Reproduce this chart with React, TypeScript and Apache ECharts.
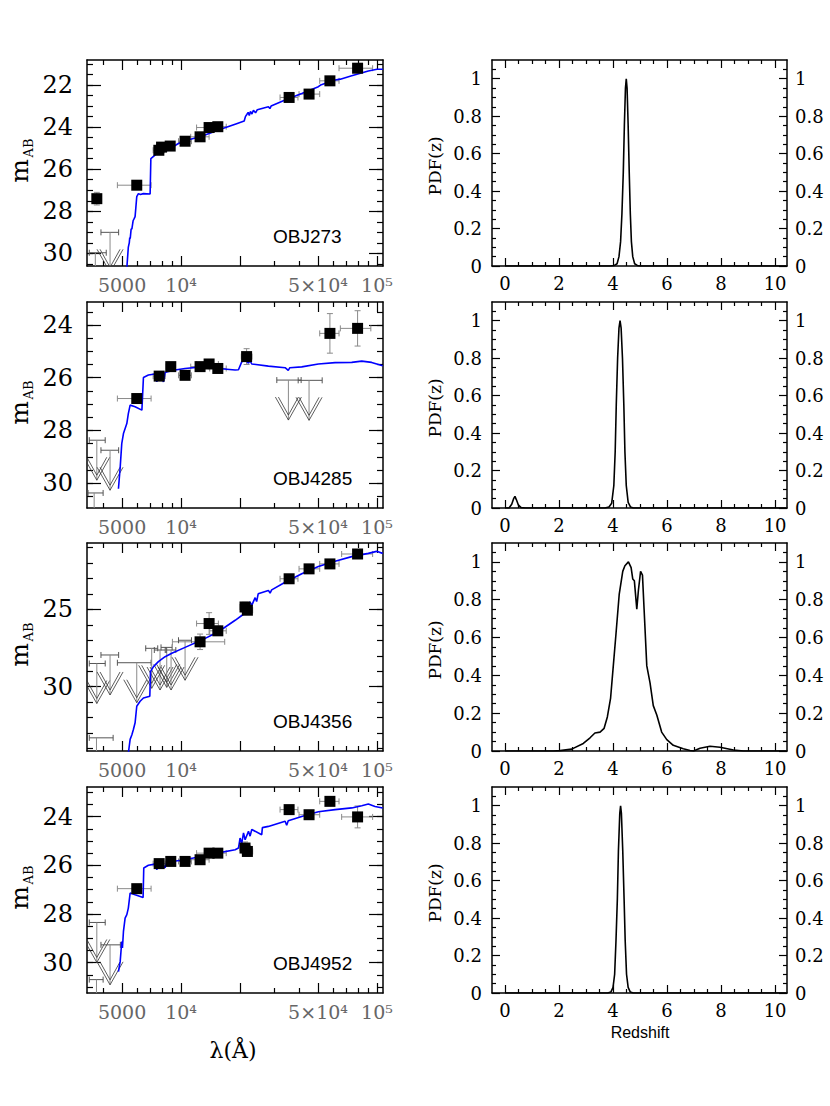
import React, { useEffect, useRef } from 'react';
import * as echarts from 'echarts';

// ---------------- data ----------------
const objectNames = ['OBJ273', 'OBJ4285', 'OBJ4356', 'OBJ4952'];

// best-fit SED templates: [wavelength (Å), m_AB]
const sed273 = [
  [5285, 30.7], [5380, 29.7], [5440, 29.5], [5470, 29.25], [5500, 29.3], [5560, 28.85], [5610, 28.83],
  [5690, 28.45], [5760, 28.35], [5825, 28.25], [5880, 27.8], [5940, 27.3], [6055, 27.16], [6200, 27.2],
  [6425, 27.16], [6950, 27.18], [6990, 27.2], [7010, 25.5], [7360, 25.33], [7600, 25.2], [7680, 25.3],
  [7800, 25.1], [7980, 25.01], [8300, 25.05], [8450, 25.12], [8610, 25.02], [8970, 24.97], [9690, 24.78],
  [10480, 24.65], [12750, 24.43], [15500, 24.14], [18880, 23.86], [21000, 23.71], [21300, 23.5],
  [21650, 23.4], [22000, 23.3], [22300, 23.45], [22600, 23.25], [23000, 23.38], [23400, 23.2],
  [24000, 23.32], [24500, 23.17], [27900, 23.03], [28400, 23.12], [28800, 23.0], [33960, 22.71],
  [41300, 22.4], [50200, 22.08], [51500, 22.0], [61100, 21.76], [65000, 21.72], [74300, 21.56],
  [90300, 21.33], [100000, 21.25], [107000, 21.25],
];
const sed4285 = [
  [4790, 30.21], [4890, 29.39], [4980, 28.5], [5080, 28.12], [5285, 27.74], [5380, 27.36], [5495, 27.04],
  [5825, 27.1], [6310, 27.23], [6425, 25.99], [6810, 25.9], [7360, 25.86], [7520, 26.16], [7660, 25.86],
  [7810, 25.83], [8130, 26.16], [8290, 25.8], [8450, 25.78], [9310, 25.71], [10480, 25.65], [12750, 25.59],
  [15500, 25.65], [18880, 25.71], [19630, 25.7], [20400, 25.4], [21230, 25.33], [22080, 25.45],
  [22500, 25.35], [22950, 25.48], [27900, 25.56], [33960, 25.62], [35240, 25.72], [35900, 25.62],
  [41300, 25.59], [50200, 25.48], [61100, 25.43], [74300, 25.42], [83600, 25.37], [93900, 25.42],
  [106900, 25.55],
];
const sed4356 = [
  [5380, 34.3], [5495, 33.4], [5610, 33.1], [5710, 32.76], [5825, 32.33], [5940, 31.26], [6180, 30.94],
  [6425, 30.73], [6925, 30.62], [6980, 29.02], [7230, 28.7], [7660, 28.38], [8290, 28.06], [8970, 27.84],
  [10480, 27.46], [12750, 26.99], [15500, 26.45], [18880, 25.71], [21230, 25.24], [21650, 24.85],
  [22500, 24.53], [22950, 24.75], [23880, 24.25], [24300, 24.5], [24750, 24.0], [27900, 23.78],
  [28460, 23.95], [29000, 23.75], [33960, 23.25], [41300, 22.71], [50200, 22.24], [61100, 21.9],
  [74300, 21.6], [90300, 21.39], [99500, 21.26], [106900, 21.39],
];
const sed4952 = [
  [4790, 30.37], [4890, 29.95], [4980, 29.13], [5020, 29.4], [5080, 28.72], [5180, 28.17], [5285, 28.03],
  [5380, 27.76], [5495, 27.14], [5825, 27.21], [6400, 27.32], [6450, 26.11], [6810, 26.0], [7360, 25.95],
  [7520, 26.18], [7660, 25.92], [7980, 25.9], [8290, 26.1], [8450, 25.88], [8970, 25.84], [10480, 25.77],
  [12750, 25.63], [15500, 25.49], [18880, 25.36], [19630, 25.29], [20000, 24.88], [20400, 25.1],
  [20830, 24.67], [21230, 24.95], [22080, 24.6], [22500, 24.8], [22950, 24.53], [25800, 24.74],
  [26000, 24.45], [27900, 24.4], [33960, 24.19], [34600, 24.35], [35240, 24.17], [41300, 23.99],
  [50200, 23.8], [61100, 23.71], [74300, 23.64], [83600, 23.55], [90300, 23.48], [97700, 23.58],
  [106900, 23.64],
];

// detections: [wavelength, m_AB, wavelength low, wavelength high, mag error]
const phot273 = [
  [3715, 27.4, 3640, 3790, 0.3], [5940, 26.76, 4730, 7030, 0.1], [7700, 25.1, 7200, 8200, 0.15],
  [7950, 24.95, 7500, 8400, 0.1], [8800, 24.9, 8400, 9200, 0.1], [10480, 24.67, 9700, 11300, 0.1],
  [12500, 24.46, 11200, 13900, 0.15], [13900, 24.02, 12000, 15500, 0.1], [15400, 23.98, 14000, 17000, 0.1],
  [35600, 22.59, 32000, 39500, 0.1], [45000, 22.43, 40000, 51000, 0.1], [57500, 21.8, 51000, 64000, 0.1],
  [79600, 21.2, 64000, 95000, 0.1],
];
const phot4285 = [
  [5940, 26.79, 4730, 7030, 0.1], [7730, 25.94, 7200, 8300, 0.15], [8860, 25.58, 8400, 9300, 0.1],
  [10480, 25.91, 9700, 11300, 0.15], [12500, 25.58, 11200, 13900, 0.1], [13900, 25.48, 12000, 15500, 0.12],
  [15400, 25.65, 14000, 17000, 0.1], [21600, 25.2, 20300, 23000, 0.3], [57500, 24.32, 51000, 64000, 0.75],
  [79600, 24.13, 65000, 93000, 0.67],
];
const phot4356 = [
  [12500, 27.1, 9030, 16700, 0.5], [13900, 25.92, 12000, 15500, 0.7], [15400, 26.39, 14000, 17000, 0.3],
  [21200, 24.85, 20000, 22500, 0.3], [21800, 25.06, 20500, 23200, 0.2], [35600, 23.03, 32000, 39500, 0.1],
  [45000, 22.39, 40000, 51000, 0.1], [57500, 22.07, 51000, 64000, 0.1], [79600, 21.43, 66000, 95000, 0.1],
];
const phot4952 = [
  [5940, 26.96, 4730, 7030, 0.1], [7730, 25.93, 7200, 8300, 0.1], [8860, 25.84, 8400, 9300, 0.1],
  [10480, 25.84, 9700, 11300, 0.1], [12500, 25.77, 11200, 13900, 0.1], [13900, 25.5, 12000, 15500, 0.1],
  [15400, 25.5, 14000, 17000, 0.1], [21200, 25.29, 20000, 22500, 0.25], [21800, 25.43, 20500, 23200, 0.2],
  [35600, 23.71, 32000, 39500, 0.1], [45000, 23.92, 40000, 51000, 0.1], [57500, 23.37, 51000, 64000, 0.15],
  [79600, 24.01, 66000, 95000, 0.45],
];

// upper limits: [wavelength, m_AB limit, wavelength low, wavelength high]
const lim273 = [[4340, 29.0, 3900, 4800], [3650, 29.97, 3400, 4150]];
const lim4285 = [
  [3715, 28.37, 3400, 4100], [4340, 28.75, 3900, 4800], [3600, 30.37, 3350, 4000],
  [35300, 26.09, 30800, 41000], [45000, 26.1, 39600, 52500],
];
const lim4356 = [
  [3715, 28.5, 3400, 4100], [4340, 27.95, 3900, 4800], [5940, 28.45, 4730, 7030], [7080, 27.52, 6600, 7600],
  [7810, 27.63, 7300, 8300], [8450, 27.46, 7900, 9000], [8890, 27.63, 8400, 9400], [10480, 27.0, 9700, 11300],
  [3700, 33.3, 3400, 4500],
];
const lim4952 = [[3715, 28.35, 3400, 4100], [4340, 29.27, 3900, 4900], [3700, 30.7, 3400, 4000]];

// redshift probability distributions: [z, PDF]
const pdf273 = [
  [0, 0], [3.9, 0], [4.05, 0.003], [4.15, 0.012], [4.22, 0.05], [4.28, 0.13], [4.33, 0.28], [4.38, 0.5],
  [4.42, 0.75], [4.46, 0.95], [4.49, 1.0], [4.52, 0.95], [4.56, 0.75], [4.6, 0.5], [4.64, 0.28],
  [4.68, 0.13], [4.73, 0.05], [4.8, 0.012], [4.9, 0.003], [5.0, 0], [10.4, 0],
];
const pdf4285 = [
  [0, 0], [0.15, 0], [0.25, 0.02], [0.32, 0.05], [0.37, 0.062], [0.42, 0.045], [0.5, 0.015], [0.6, 0.002],
  [0.75, 0], [3.7, 0], [3.85, 0.005], [3.95, 0.025], [4.03, 0.12], [4.08, 0.3], [4.12, 0.55], [4.17, 0.8],
  [4.22, 0.96], [4.26, 1.0], [4.3, 0.96], [4.35, 0.8], [4.4, 0.55], [4.44, 0.3], [4.49, 0.12], [4.56, 0.03],
  [4.65, 0.005], [4.75, 0], [10.4, 0],
];
const pdf4356 = [
  [0, 0], [1.8, 0], [2.04, 0.002], [2.47, 0.01], [2.9, 0.04], [3.15, 0.07], [3.33, 0.095], [3.52, 0.1],
  [3.67, 0.12], [3.79, 0.18], [3.91, 0.28], [4.01, 0.45], [4.11, 0.62], [4.23, 0.83], [4.36, 0.95],
  [4.44, 0.98], [4.57, 1.0], [4.67, 0.97], [4.73, 0.91], [4.79, 0.9], [4.88, 0.75], [4.94, 0.85],
  [5.02, 0.95], [5.09, 0.93], [5.15, 0.75], [5.25, 0.45], [5.37, 0.36], [5.49, 0.24], [5.62, 0.19],
  [5.8, 0.1], [5.99, 0.06], [6.23, 0.03], [6.6, 0.012], [6.85, 0.003], [6.98, 0.0], [7.22, 0.015],
  [7.59, 0.025], [7.96, 0.02], [8.46, 0.005], [8.83, 0], [10.4, 0],
];
const pdf4952 = [
  [0, 0], [3.8, 0], [3.92, 0.005], [4.0, 0.03], [4.06, 0.1], [4.11, 0.28], [4.16, 0.5], [4.2, 0.76],
  [4.25, 0.96], [4.28, 1.0], [4.31, 0.96], [4.36, 0.76], [4.41, 0.5], [4.45, 0.28], [4.5, 0.1],
  [4.56, 0.03], [4.64, 0.005], [4.75, 0], [10.4, 0],
];

const sedModels = [sed273, sed4285, sed4356, sed4952];
const photometry = [phot273, phot4285, phot4356, phot4952];
const upperLimits = [lim273, lim4285, lim4356, lim4952];
const pdfs = [pdf273, pdf4285, pdf4356, pdf4952];

// axes
const magRanges = [[20.81, 30.6], [23.13, 30.94], [20.72, 34.15], [22.78, 31.25]];
const magLabelTicks = [[22, 24, 26, 28, 30], [24, 26, 28, 30], [25, 30], [24, 26, 28, 30]];
const magMinorTicks = [
  [21, 21.5, 22, 22.5, 23, 23.5, 24, 24.5, 25, 25.5, 26, 26.5, 27, 27.5, 28, 28.5, 29, 29.5, 30, 30.5],
  [23.5, 24, 24.5, 25, 25.5, 26, 26.5, 27, 27.5, 28, 28.5, 29, 29.5, 30, 30.5],
  [21, 22, 23, 24, 25, 26, 27, 28, 29, 30, 31, 32, 33, 34],
  [23, 23.5, 24, 24.5, 25, 25.5, 26, 26.5, 27, 27.5, 28, 28.5, 29, 29.5, 30, 30.5, 31],
];
const wavelengthRange = [3310, 107300];
const wavelengthMajorTicks = [5000, 10000, 20000, 50000, 100000];
const wavelengthLabelTicks = [5000, 10000, 50000, 100000];
const wavelengthLabelTexts = ['5000', '10⁴', '5×10⁴', '10⁵'];
const wavelengthMinorTicks = [4000, 6000, 7000, 8000, 9000, 30000, 40000, 60000, 70000, 80000, 90000];
const redshiftRange = [-0.48, 10.44];
const redshiftLabelTicks = [0, 2, 4, 6, 8, 10];
const redshiftMinorTicks = [0.5, 1, 1.5, 2.5, 3, 3.5, 4.5, 5, 5.5, 6.5, 7, 7.5, 8.5, 9, 9.5];
const pdfRange = [0, 1.1];
const pdfLabelTicks = [0, 0.2, 0.4, 0.6, 0.8, 1];
const pdfMinorTicks = [0.05, 0.1, 0.15, 0.25, 0.3, 0.35, 0.45, 0.5, 0.55, 0.65, 0.7, 0.75, 0.85, 0.9, 0.95, 1.05];

// ---------------- layout ----------------
const rowTops = [60, 302, 543, 787];
const rowHeights = [206, 206, 208, 206];
const LEFT_X = 87, LEFT_W = 296, RIGHT_X = 492, RIGHT_W = 295;
const SERIF = 'DejaVu Serif';
const SANS = 'Liberation Sans';

function clipSeg(x1: number, y1: number, x2: number, y2: number, r: any) {
  let t0 = 0, t1 = 1;
  const dx = x2 - x1, dy = y2 - y1;
  const p = [-dx, dx, -dy, dy];
  const q = [x1 - r.x, r.x + r.width - x1, y1 - r.y, r.y + r.height - y1];
  for (let i = 0; i < 4; i++) {
    if (p[i] === 0) {
      if (q[i] < 0) return null;
    } else {
      const t = q[i] / p[i];
      if (p[i] < 0) { if (t > t1) return null; if (t > t0) t0 = t; }
      else { if (t < t0) return null; if (t < t1) t1 = t; }
    }
  }
  return { x1: x1 + t0 * dx, y1: y1 + t0 * dy, x2: x1 + t1 * dx, y2: y1 + t1 * dy };
}

function seg(x1: number, y1: number, x2: number, y2: number, r: any, stroke: string, lw: number) {
  const s = clipSeg(x1, y1, x2, y2, r);
  if (!s) return null;
  return { type: 'line', shape: s, style: { stroke, lineWidth: lw, fill: null } };
}

function renderErrors(params: any, api: any) {
  const r = params.coordSys;
  const x = api.value(0), y = api.value(1), xlo = api.value(2), xhi = api.value(3), dy = api.value(4);
  const l = api.coord([xlo, y]);
  const h = api.coord([xhi, y]);
  const t = api.coord([x, y - dy]);
  const b = api.coord([x, y + dy]);
  const c = '#8a8a8a';
  const children = [
    seg(l[0], l[1], h[0], h[1], r, c, 1),
    seg(l[0], l[1] - 3, l[0], l[1] + 3, r, c, 1),
    seg(h[0], h[1] - 3, h[0], h[1] + 3, r, c, 1),
    seg(t[0], t[1], b[0], b[1], r, c, 1),
    seg(t[0] - 3, t[1], t[0] + 3, t[1], r, c, 1),
    seg(b[0] - 3, b[1], b[0] + 3, b[1], r, c, 1),
  ].filter(Boolean);
  return { type: 'group', children };
}

function renderLimits(params: any, api: any) {
  const r = params.coordSys;
  const x = api.value(0), y = api.value(1), xlo = api.value(2), xhi = api.value(3);
  const p = api.coord([x, y]);
  const l = api.coord([xlo, y]);
  const h = api.coord([xhi, y]);
  const tip = p[1] + 40;
  const px = p[0];
  const dark = '#333';
  const children = [
    seg(l[0], l[1], h[0], h[1], r, '#555', 1),
    seg(l[0], l[1] - 3, l[0], l[1] + 3, r, '#555', 1),
    seg(h[0], h[1] - 3, h[0], h[1] + 3, r, '#555', 1),
    seg(px, p[1], px, tip, r, '#8a8a8a', 1),
    seg(px - 13, tip - 23, px, tip, r, dark, 0.8),
    seg(px, tip, px + 13, tip - 23, r, dark, 0.8),
    seg(px - 10, tip - 23, px, tip - 5, r, dark, 0.8),
    seg(px, tip - 5, px + 10, tip - 23, r, dark, 0.8),
  ].filter(Boolean);
  return { type: 'group', children };
}

function tickAxis(base: any, values: number[], length: number, line: boolean, label?: any) {
  return {
    ...base,
    splitLine: { show: false },
    axisLine: { show: line, onZero: false, lineStyle: { color: '#000', width: 1.5 } },
    axisTick: { show: true, inside: true, length, customValues: values, lineStyle: { color: '#000', width: 1.2 } },
    minorTick: { show: false },
    axisLabel: label ? label : { show: false },
    axisPointer: { show: false },
  };
}

function buildOption() {
  const grids: any[] = [];
  const xAxes: any[] = [];
  const yAxes: any[] = [];
  const series: any[] = [];
  const graphics: any[] = [];

  for (let i = 0; i < 4; i++) {
    // ----- left SED panel -----
    const gl = grids.length;
    grids.push({ left: LEFT_X, top: rowTops[i], width: LEFT_W, height: rowHeights[i], containLabel: false });
    const xb = { gridIndex: gl, type: 'log', logBase: 10, min: wavelengthRange[0], max: wavelengthRange[1] };
    const mainX = xAxes.length;
    xAxes.push(tickAxis({ ...xb, position: 'bottom' }, wavelengthMajorTicks, 10, true, {
      show: true, customValues: wavelengthLabelTicks, margin: 9, color: '#666', fontFamily: SERIF, fontSize: 19,
      formatter: (v: number) => wavelengthLabelTexts[wavelengthLabelTicks.findIndex((t) => Math.abs(t - v) / t < 1e-3)] ?? '',
    }));
    xAxes.push(tickAxis({ ...xb, position: 'bottom' }, wavelengthMinorTicks, 5, false));
    xAxes.push(tickAxis({ ...xb, position: 'top' }, wavelengthMajorTicks, 10, true));
    xAxes.push(tickAxis({ ...xb, position: 'top' }, wavelengthMinorTicks, 5, false));

    const yb = { gridIndex: gl, type: 'value', inverse: true, min: magRanges[i][0], max: magRanges[i][1] };
    const mainY = yAxes.length;
    yAxes.push(tickAxis({ ...yb, position: 'left' }, magLabelTicks[i], 14, true, {
      show: true, customValues: magLabelTicks[i], margin: 14, color: '#000', fontFamily: SERIF, fontSize: 24,
      formatter: (v: number) => String(Math.round(v)),
    }));
    yAxes.push(tickAxis({ ...yb, position: 'left' }, magMinorTicks[i], 6, false));
    yAxes.push(tickAxis({ ...yb, position: 'right' }, magLabelTicks[i], 14, true));
    yAxes.push(tickAxis({ ...yb, position: 'right' }, magMinorTicks[i], 6, false));

    series.push({
      type: 'custom', xAxisIndex: mainX, yAxisIndex: mainY, renderItem: renderErrors,
      data: photometry[i], encode: { x: 0, y: 1 }, z: 2, silent: true,
    });
    series.push({
      type: 'custom', xAxisIndex: mainX, yAxisIndex: mainY, renderItem: renderLimits,
      data: upperLimits[i], encode: { x: 0, y: 1 }, z: 2, silent: true,
    });
    series.push({
      type: 'line', xAxisIndex: mainX, yAxisIndex: mainY, data: sedModels[i], showSymbol: false, symbol: 'none',
      lineStyle: { color: '#0000ff', width: 1.6 }, z: 3, clip: true, silent: true,
    });
    series.push({
      type: 'scatter', xAxisIndex: mainX, yAxisIndex: mainY, data: photometry[i].map((d) => [d[0], d[1]]),
      symbol: 'rect', symbolSize: 11, itemStyle: { color: '#000', opacity: 1 }, z: 4, silent: true,
    });

    // ----- right PDF panel -----
    const gr = grids.length;
    grids.push({ left: RIGHT_X, top: rowTops[i], width: RIGHT_W, height: rowHeights[i], containLabel: false });
    const zb = { gridIndex: gr, type: 'value', min: redshiftRange[0], max: redshiftRange[1] };
    const mainZ = xAxes.length;
    xAxes.push(tickAxis({ ...zb, position: 'bottom' }, redshiftLabelTicks, 8, true, {
      show: true, customValues: redshiftLabelTicks, margin: 8, color: '#000', fontFamily: SERIF, fontSize: 18,
      formatter: (v: number) => String(Math.round(v)),
    }));
    xAxes.push(tickAxis({ ...zb, position: 'bottom' }, redshiftMinorTicks, 4, false));
    xAxes.push(tickAxis({ ...zb, position: 'top' }, redshiftLabelTicks, 8, true));
    xAxes.push(tickAxis({ ...zb, position: 'top' }, redshiftMinorTicks, 4, false));

    const pb = { gridIndex: gr, type: 'value', min: pdfRange[0], max: pdfRange[1] };
    const mainP = yAxes.length;
    const pLabel = {
      show: true, customValues: pdfLabelTicks, color: '#000', fontFamily: SERIF, fontSize: 18,
      formatter: (v: number) => String(Math.round(v * 10) / 10),
    };
    yAxes.push(tickAxis({ ...pb, position: 'left' }, pdfLabelTicks, 8, true, { ...pLabel, margin: 10 }));
    yAxes.push(tickAxis({ ...pb, position: 'left' }, pdfMinorTicks, 4, false));
    yAxes.push(tickAxis({ ...pb, position: 'right' }, pdfLabelTicks, 8, true, { ...pLabel, margin: 8 }));
    yAxes.push(tickAxis({ ...pb, position: 'right' }, pdfMinorTicks, 4, false));

    series.push({
      type: 'line', xAxisIndex: mainZ, yAxisIndex: mainP, data: pdfs[i], showSymbol: false, symbol: 'none',
      lineStyle: { color: '#000', width: 1.6 }, z: 3, clip: true, silent: true,
    });

    // ----- annotations -----
    const cy = rowTops[i] + rowHeights[i] / 2;
    const bottom = rowTops[i] + rowHeights[i];
    graphics.push({
      type: 'text', x: 273, y: bottom - 30, silent: true,
      style: { text: objectNames[i], fontFamily: SANS, fontSize: 19, fill: '#000', align: 'left', verticalAlign: 'middle' },
    });
    graphics.push({
      type: 'text', x: 19, y: cy + 8, rotation: Math.PI / 2, silent: true,
      style: { text: 'm', fontFamily: SERIF, fontSize: 25, fill: '#000', align: 'center', verticalAlign: 'middle' },
    });
    graphics.push({
      type: 'text', x: 28, y: cy - 15, rotation: Math.PI / 2, silent: true,
      style: { text: 'AB', fontFamily: SERIF, fontSize: 13, fill: '#000', align: 'center', verticalAlign: 'middle' },
    });
    graphics.push({
      type: 'text', x: 435, y: cy + 3, rotation: Math.PI / 2, silent: true,
      style: { text: 'PDF(z)', fontFamily: SERIF, fontSize: 17, fill: '#000', align: 'center', verticalAlign: 'middle' },
    });
  }

  graphics.push({
    type: 'text', x: 233, y: 1050, silent: true,
    style: { text: 'λ(Å)', fontFamily: SERIF, fontSize: 22, fill: '#000', align: 'center', verticalAlign: 'middle' },
  });
  graphics.push({
    type: 'text', x: 640, y: 1032, silent: true,
    style: { text: 'Redshift', fontFamily: SANS, fontSize: 16, fill: '#000', align: 'center', verticalAlign: 'middle' },
  });

  return {
    animation: false,
    backgroundColor: '#fff',
    grid: grids,
    xAxis: xAxes,
    yAxis: yAxes,
    series,
    graphic: graphics,
  };
}

export default function App() {
  const ref = useRef<HTMLDivElement>(null);
  useEffect(() => {
    if (!ref.current) return;
    const chart = echarts.init(ref.current, undefined, { renderer: 'svg' });
    chart.setOption(buildOption() as any);
    return () => chart.dispose();
  }, []);
  return (
    <div
      ref={ref}
      style={{ position: 'absolute', left: 0, top: 0, width: 830, height: 1106, background: '#fff' }}
    />
  );
}
